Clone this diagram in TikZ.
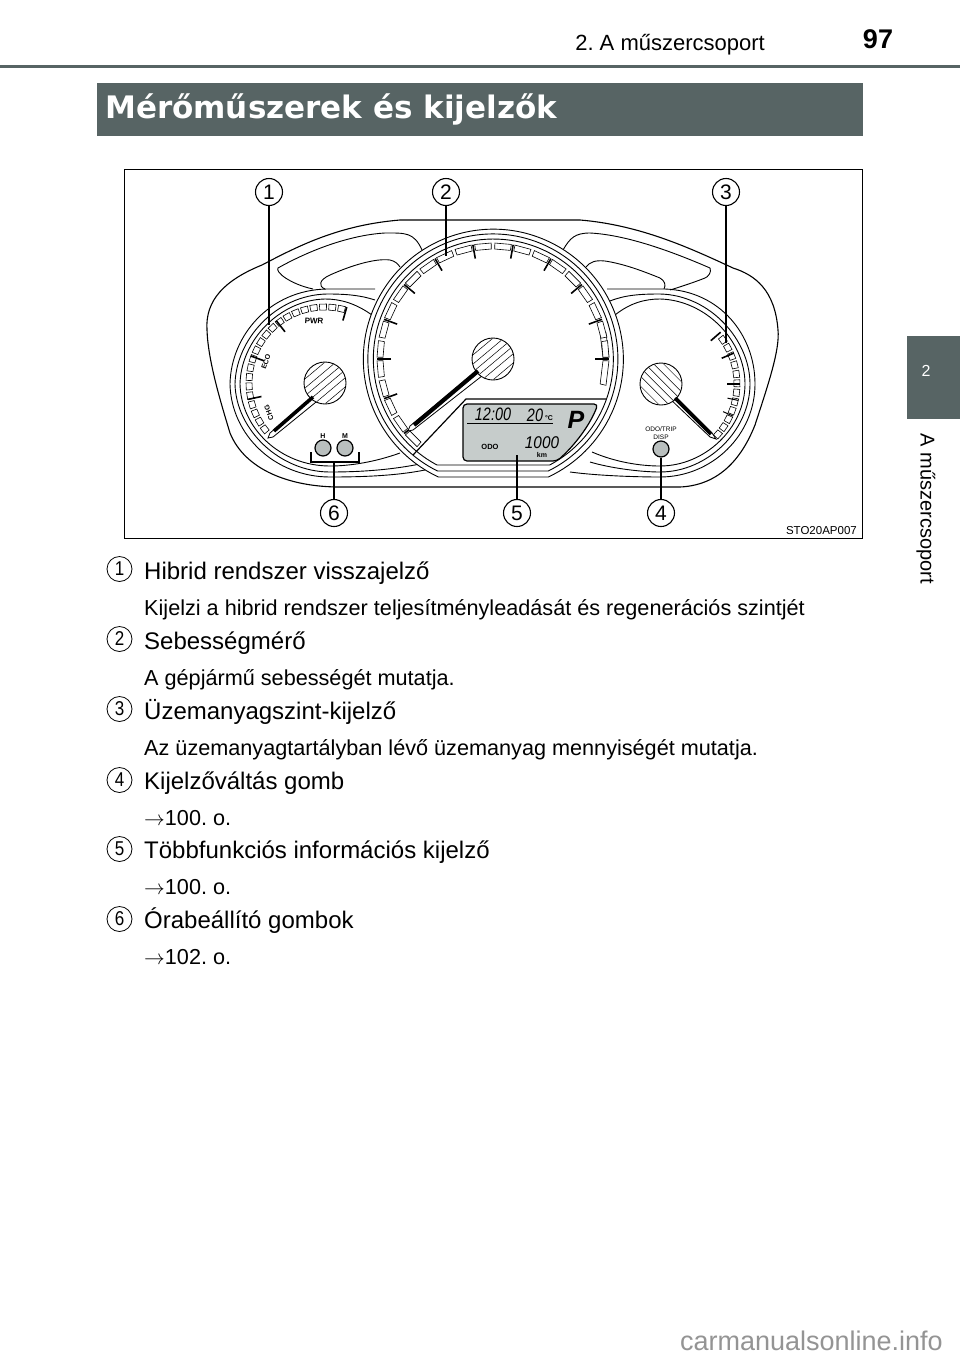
\documentclass[tikz,border=0pt]{standalone}
\usepackage{fontspec}
\setmainfont{Liberation Sans}
\newfontfamily\titlefont{DejaVu Sans}
\usetikzlibrary{calc}
\definecolor{bandgrey}{HTML}{576464}
\definecolor{lcdgrey}{HTML}{C6CCCB}
\definecolor{btngrey}{HTML}{B9BFBE}
\tikzset{
  leader/.style={draw=black, line width=1.1pt},
  ring/.style={draw=black, line width=0.9pt},
  tickmark/.style={draw=black, line width=1.6pt},
  segment/.style={draw=black, line width=0.6pt, fill=white},
  callout/.style={circle, draw=black, line width=1.1pt, fill=white, inner sep=0pt, minimum size=27pt, font=\fontsize{21}{21}\selectfont},
  itemno/.style={circle, draw=black, line width=0.8pt, inner sep=0pt, minimum size=25pt, font=\fontsize{20}{20}\selectfont},
  itemhead/.style={anchor=base west, inner sep=0pt, font=\fontsize{24}{24}\selectfont},
  itembody/.style={anchor=base west, inner sep=0pt, font=\fontsize{21.65}{21}\selectfont},
  hub/.style={circle, draw=black, line width=0.9pt, fill=white, inner sep=0pt, minimum size=42pt},
  button/.style={circle, draw=black, line width=1.2pt, fill=btngrey, inner sep=0pt, minimum size=16pt},
  tiny/.style={inner sep=0pt, font=\fontsize{7}{7}\selectfont\bfseries},
  lcd/.style={inner sep=0pt, font=\itshape},
}
% segments of a gauge scale: centre, first angle, step, last angle, radii
\newcommand{\gaugeband}[6]{
  \foreach \a in {#2,#3,...,#4} {
    \draw[segment] ($(#1)+(\a+0.9:#5pt)$) -- ($(#1)+(\a+0.9:#6pt)$) -- ($(#1)+(\a+\bandstep-0.9:#6pt)$) -- ($(#1)+(\a+\bandstep-0.9:#5pt)$) -- cycle;
  }
}
% stripes on a hub, at the angle of its needle
\newcommand{\hubhatch}[2]{
  \begin{scope}
    \clip (#1) circle[radius=20.5pt];
    \foreach \d in {-16,-9,-3,3,9,16} {
      \draw[line width=0.5pt] ($(#1)+(#2+90:\d pt)+(#2:-24pt)$) -- ($(#1)+(#2+90:\d pt)+(#2:24pt)$);
    }
  \end{scope}
}
\begin{document}
\frenchspacing
\begin{tikzpicture}[x=1pt, y=-1pt]
\useasboundingbox (0,0) rectangle (960,1360);
% page furniture
\fill[white] (0,0) rectangle (960,1360);
\fill[bandgrey] (0,64.5) rectangle (960,67.5);
\node[anchor=base east, inner sep=0pt, font=\fontsize{22}{22}\selectfont] (chapter) at (765,50) {2. A műszercsoport};
\node[anchor=base, inner sep=0pt, font=\fontsize{27}{27}\selectfont\bfseries] (pageno) at (878,48) {97};
\node[fill=bandgrey, minimum width=53pt, minimum height=83pt, inner sep=0pt] (tab) at (933.5,377.5) {};
\node[text=white, inner sep=0pt, font=\fontsize{16}{16}\selectfont] (tabno) at (926,371) {2};
\node[rotate=-90, inner sep=0pt, font=\fontsize{20}{20}\selectfont] (tabtext) at (926,509) {A műszercsoport};
\node[fill=bandgrey, minimum width=766pt, minimum height=53pt, inner sep=0pt] (titlebar) at (480,109.5) {};
\node[anchor=base west, text=white, inner sep=0pt, font=\fontsize{31}{31}\titlefont\bfseries] (title) at (105,118) {Mérőműszerek és kijelzők};
\node[draw=black, line width=0.7pt, minimum width=738pt, minimum height=369pt, inner sep=0pt] (frame) at (493,353.5) {};
% housing
\draw[ring, line width=1.1pt] (340,487) -- (680,487) .. controls (725,485) and (745,450) .. (755,425) .. controls (768,385) and (780,350) .. (778,330) .. controls (775,290) and (755,275) .. (733,268) .. controls (690,248) and (640,225) .. (580,220) -- (400,220) .. controls (340,225) and (300,245) .. (262,265) .. controls (225,280) and (205,300) .. (207,330) .. controls (208,360) and (220,400) .. (230,433) .. controls (245,470) and (290,487) .. (340,487);
% upper pads
\draw[ring] (422,250) .. controls (414,232) and (405,233) .. (385,233) .. controls (350,235) and (310,250) .. (278,268) .. controls (275,272) and (290,284) .. (313,289);
\draw[ring] (325,289) .. controls (318,286) and (319,280) .. (330,275) .. controls (350,266) and (375,258) .. (390,260) .. controls (395,261) and (398,264) .. (400,267);
\draw[ring] (563,250) .. controls (570,238) and (575,233) .. (590,233) .. controls (630,235) and (680,255) .. (710,268) .. controls (712,272) and (708,277) .. (705,278) .. controls (695,282) and (680,287) .. (670,290);
\draw[ring] (586,267) .. controls (590,262) and (595,260) .. (605,261) .. controls (625,264) and (645,272) .. (660,278) .. controls (665,281) and (666,285) .. (664,289);
% side gauges
\draw[ring] (375,289) -- (327,289) .. controls (270,290) and (231,335) .. (230,384) .. controls (231,435) and (275,477) .. (330,477) .. controls (360,477) and (395,476) .. (425,470);
\draw[ring] (375,300) .. controls (360,295) and (345,294) .. (327,294) .. controls (275,295) and (236,340) .. (235,384) .. controls (236,430) and (280,472) .. (330,472) .. controls (360,472) and (390,470) .. (420,464);
\draw[ring] (372,315) .. controls (355,303) and (340,299) .. (325,299) .. controls (280,300) and (241,340) .. (240,384) .. controls (241,428) and (280,466) .. (330,466) .. controls (350,466) and (375,462) .. (400,453);
\draw[ring] (607,289) -- (665,289) .. controls (720,291) and (755,335) .. (755,384) .. controls (755,435) and (712,477) .. (660,477) .. controls (640,477) and (600,476) .. (570,472);
\draw[ring] (610,301) .. controls (625,295) and (640,294) .. (660,294) .. controls (710,295) and (750,340) .. (750,384) .. controls (750,430) and (708,472) .. (660,472) .. controls (640,472) and (610,468) .. (590,462);
\draw[ring] (615,315) .. controls (630,303) and (645,299) .. (660,299) .. controls (705,300) and (745,340) .. (745,384) .. controls (745,428) and (705,466) .. (660,466) .. controls (640,466) and (615,462) .. (592,452);
% main gauge
\coordinate (bigc) at (493,359);
\coordinate (leftc) at (325,383);
\coordinate (rightc) at (661,384);
\draw[ring, fill=white] (438.4,477) arc[start angle=245, end angle=-65, radius=130pt] -- cycle;
\draw[ring] (437.5,471) arc[start angle=243.7, end angle=-63.7, radius=125pt] -- cycle;
\draw[ring] (437,465) arc[start angle=242, end angle=-62, radius=120pt] -- cycle;
% dial scales
\def\bandstep{14}
\gaugeband{bigc}{-14}{0}{-14}{110}{116}
\def\bandstep{10}
\gaugeband{bigc}{0}{10}{220}{110}{116}
\def\bandstep{7}
\gaugeband{leftc}{74}{81}{215}{73}{79}
\def\bandstep{7}
\gaugeband{rightc}{-45}{-38}{38}{73}{79}
\foreach \a in {0,20,...,220} {
  \draw[tickmark] ($(bigc)+(\a:102pt)$) -- ($(bigc)+(\a:116pt)$);
}
\foreach \a in {74,128,160,192} {
  \draw[tickmark] ($(leftc)+(\a:65pt)$) -- ($(leftc)+(\a:79pt)$);
}
\foreach \a in {41,23,0} {
  \draw[tickmark] ($(rightc)+(\a:66pt)$) -- ($(rightc)+(\a:79pt)$);
}
\foreach \a in {-12,-24} {
  \draw[tickmark, line width=1pt] ($(rightc)+(\a:68pt)$) -- ($(rightc)+(\a:79pt)$);
}
% display
\draw[ring, line width=1.2pt] (606,399) -- (466,399) -- (413,455);
\draw[line width=1.2pt, fill=lcdgrey, rounded corners=4pt] (463,404) -- (598,404) .. controls (590,425) and (575,445) .. (557,461) -- (463,461) -- cycle;
\draw[line width=0.8pt] (467,423) -- (553,423);
\node[lcd, font=\fontsize{18}{18}\selectfont\itshape] (clock) at (493,414.5) {\scalebox{0.8}[1]{12:00}};
\node[lcd, font=\fontsize{18}{18}\selectfont\itshape] (temp) at (535,415) {\scalebox{0.8}[1]{20}};
\node[inner sep=0pt, font=\fontsize{7}{7}\selectfont\bfseries] (unit) at (549,418) {°C};
\node[lcd, font=\fontsize{25}{25}\selectfont\itshape\bfseries] (gear) at (576,420) {P};
\node[tiny, font=\fontsize{7.5}{7.5}\selectfont\bfseries] (odo) at (490,447) {ODO};
\node[lcd, font=\fontsize{17}{17}\selectfont\itshape] (trip) at (542,442.5) {\scalebox{0.9}[1]{1000}};
\node[tiny] (km) at (542,455) {km};
% hubs and needles
\draw[fill=white, line width=0.8pt] (483,366) -- (410,426) -- (408,431) -- (413,430) -- (487,372) -- cycle;
\node[hub] (bighub) at (bigc) {};
\hubhatch{bigc}{40}
\draw[fill=white, line width=0.8pt] (318,393) -- (270,433) -- (268,438) -- (273,437) -- (321,398) -- cycle;
\node[hub] (lefthub) at (leftc) {};
\hubhatch{leftc}{40}
\draw[fill=white, line width=0.8pt] (670,391) -- (712,433) -- (716,439) -- (710,437) -- (667,396) -- cycle;
\node[hub] (righthub) at (rightc) {};
\hubhatch{rightc}{-45}
\draw[line width=4.2pt] (478,371) -- (414,425);
\draw[line width=3.6pt] (313,397) -- (274,431);
\draw[line width=3.6pt] (675,398) -- (711,434);
% dial labels
\node[tiny, rotate=-4, font=\fontsize{8}{8}\selectfont\bfseries] (pwr) at (314,321) {PWR};
\node[tiny, rotate=70] (eco) at (266,362) {ECO};
\node[tiny, rotate=110] (chg) at (269,413) {CHG};
\node[button] (hbtn) at (323,448) {};
\node[button] (mbtn) at (345,448) {};
\node[tiny] (hlabel) at (323,436) {H};
\node[tiny] (mlabel) at (345,436) {M};
\node[button] (dispbtn) at (661,449) {};
\node[tiny, align=center, font=\fontsize{6.5}{7.5}\selectfont] (displabel) at (661,433) {ODO/TRIP\\DISP};
% callouts
\node[callout] (c1) at (269,192) {1};
\node[callout] (c2) at (446,192) {2};
\node[callout] (c3) at (726,192) {3};
\node[callout] (c4) at (661,513) {4};
\node[callout] (c5) at (517,513) {5};
\node[callout] (c6) at (334,513) {6};
\coordinate (t1) at (269,325);
\coordinate (t2) at (446,256);
\coordinate (t3) at (726,343);
\coordinate (t5) at (517,455);
\coordinate (brL) at (311,452);
\coordinate (brR) at (359,452);
\coordinate (brM) at (334,462);
\draw[leader] (c1) -- (t1);
\draw[leader] (c2) -- (t2);
\draw[leader] (c3) -- (t3);
\draw[leader] (c4) -- (dispbtn);
\draw[leader] (c5) -- (t5);
\draw[leader] (c6) -- (brM);
\draw[leader] (brL) -- (311,462) -- (359,462) -- (brR);
\node[anchor=base east, fill=white, inner sep=1pt, font=\fontsize{11.5}{11.5}\selectfont] (code) at (858,534) {STO20AP007};
% list
\node[itemno] (n1) at (119.5,569) {\scalebox{0.85}[1]{1}};
\node[itemhead] (h1) at (144,579) {Hibrid rendszer visszajelző};
\node[itembody] (b1) at (144,615) {Kijelzi a hibrid rendszer teljesítményleadását és regenerációs szintjét};
\node[itemno] (n2) at (119.5,639) {\scalebox{0.85}[1]{2}};
\node[itemhead] (h2) at (144,649) {Sebességmérő};
\node[itembody] (b2) at (144,685) {A gépjármű sebességét mutatja.};
\node[itemno] (n3) at (119.5,709) {\scalebox{0.85}[1]{3}};
\node[itemhead] (h3) at (144,719) {Üzemanyagszint-kijelző};
\node[itembody] (b3) at (144,755) {Az üzemanyagtartályban lévő üzemanyag mennyiségét mutatja.};
\node[itemno] (n4) at (119.5,780) {\scalebox{0.85}[1]{4}};
\node[itemhead] (h4) at (144,789) {Kijelzőváltás gomb};
\node[itembody] (b4) at (144,825) {$\rightarrow$100. o.};
\node[itemno] (n5) at (119.5,849) {\scalebox{0.85}[1]{5}};
\node[itemhead] (h5) at (144,858) {Többfunkciós információs kijelző};
\node[itembody] (b5) at (144,894) {$\rightarrow$100. o.};
\node[itemno] (n6) at (119.5,919) {\scalebox{0.85}[1]{6}};
\node[itemhead] (h6) at (144,928) {Órabeállító gombok};
\node[itembody] (b6) at (144,964) {$\rightarrow$102. o.};
\node[anchor=base east, text=black!42, inner sep=0pt, font=\fontsize{27}{27}\selectfont] (site) at (943,1350) {carmanualsonline.info};
\end{tikzpicture}
\end{document}
